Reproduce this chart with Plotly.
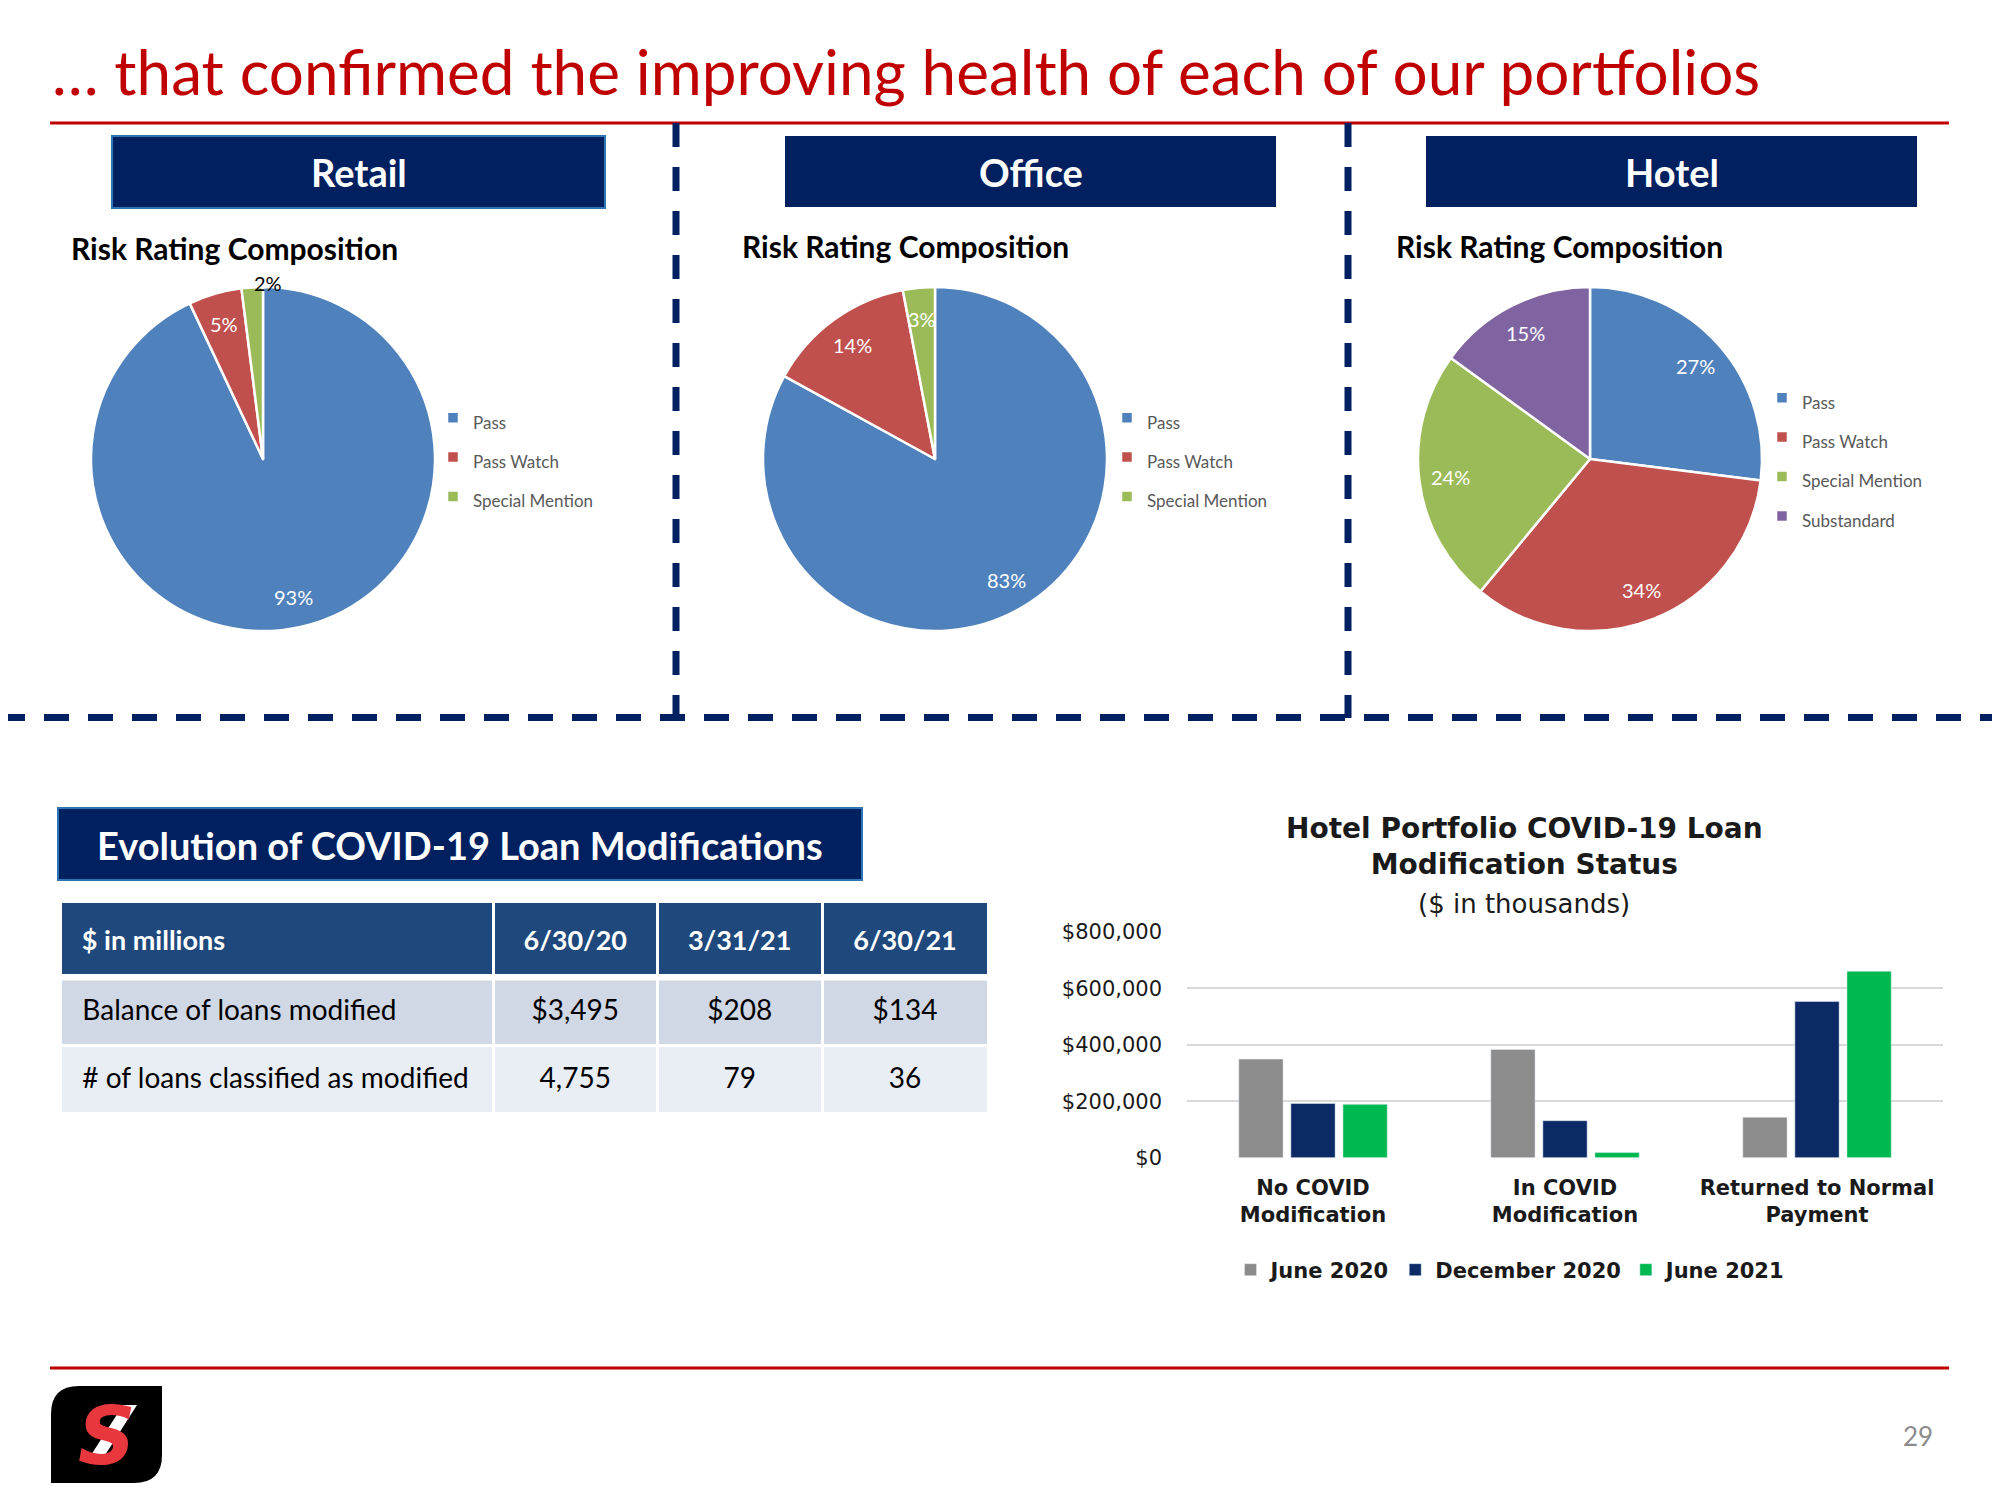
import math
import plotly.graph_objects as go

# ---------------- data ----------------
title_text = "… that confirmed the improving health of each of our portfolios"
panel_titles = ["Retail", "Office", "Hotel"]
pie_subtitle = "Risk Rating Composition"

retail_labels = ["Pass", "Pass Watch", "Special Mention"]
retail_values = [93, 5, 2]
office_labels = ["Pass", "Pass Watch", "Special Mention"]
office_values = [83, 14, 3]
hotel_labels = ["Pass", "Pass Watch", "Special Mention", "Substandard"]
hotel_values = [27, 34, 24, 15]

table_title = "Evolution of COVID-19 Loan Modifications"
table_header = ["$ in millions", "6/30/20", "3/31/21", "6/30/21"]
table_rows = ["Balance of loans modified", "# of loans classified as modified"]
col_6_30_20 = ["$3,495", "4,755"]
col_3_31_21 = ["$208", "79"]
col_6_30_21 = ["$134", "36"]

bar_title = ["Hotel Portfolio COVID-19 Loan", "Modification Status"]
bar_subtitle = "($ in thousands)"
bar_series = ["June 2020", "December 2020", "June 2021"]
bar_categories = ["No COVID Modification", "In COVID Modification", "Returned to Normal Payment"]
bar_tick_labels = ["No COVID<br>Modification", "In COVID<br>Modification", "Returned to Normal<br>Payment"]
june_2020 = [349000, 383000, 143000]
december_2020 = [192000, 131000, 553000]
june_2021 = [189000, 18000, 660000]
y_tick_values = [0, 200000, 400000, 600000, 800000]
page_number = "29"

# ---------------- styles ----------------
W, H, OFF = 1984, 1484, 8


def X(p):
    return (p - OFF) / W


def Y(p):
    return 1 - (p - OFF) / H


NAVY = "#002060"
RED = "#C00000"
BORDER_BLUE = "#2E75B6"
CAL = "Lato, Carlito, Calibri, sans-serif"
ARI = "DejaVu Sans, Verdana, sans-serif"
rating_colors = {"Pass": "#4F81BD", "Pass Watch": "#C0504D",
                 "Special Mention": "#9BBB59", "Substandard": "#8064A2"}
series_colors = ["#8C8C8C", "#0B2A66", "#00B850"]

fig = go.Figure()
shapes = []
annotations = []


def txt(x, y, text, size, color, family=CAL, xa="center", ya="middle"):
    annotations.append(dict(x=X(x), y=Y(y), xref="paper", yref="paper", text=text,
                            showarrow=False, xanchor=xa, yanchor=ya,
                            font=dict(family=family, size=size, color=color)))


# ---------------- slide frame ----------------
txt(50, 71, title_text, 62, RED, xa="left")
for yy in (123, 1368):
    shapes.append(dict(type="line", xref="paper", yref="paper", x0=X(50), x1=X(1949),
                       y0=Y(yy), y1=Y(yy), line=dict(color=RED, width=3)))
for xx in (676, 1348):
    shapes.append(dict(type="line", xref="paper", yref="paper", x0=X(xx), x1=X(xx),
                       y0=Y(123), y1=Y(718), line=dict(color=NAVY, width=7, dash="24px,20px")))
shapes.append(dict(type="line", xref="paper", yref="paper", x0=X(0), x1=X(2000),
                   y0=Y(717.5), y1=Y(717.5), line=dict(color=NAVY, width=7, dash="25px,19px")))

boxes = [(112, 136, 605, 208, True), (785, 136, 1276, 207, False), (1426, 136, 1917, 207, False)]
for (x0, y0, x1, y1, bord), name in zip(boxes, panel_titles):
    shapes.append(dict(type="rect", xref="paper", yref="paper", x0=X(x0), x1=X(x1), y0=Y(y1), y1=Y(y0),
                       fillcolor=NAVY, line=dict(color=BORDER_BLUE if bord else NAVY, width=2 if bord else 0)))
    txt((x0 + x1) / 2, (y0 + y1) / 2, "<b>%s</b>" % name, 38, "white")

# ---------------- pies ----------------
R = 172
pies = [
    (retail_labels, retail_values, 263, 459, 69, 248, "legend2", ["in", "in", "out"]),
    (office_labels, office_values, 935, 459, 740, 246, "legend3", ["in", "in", "in"]),
    (hotel_labels, hotel_values, 1590, 459, 1394, 246, "legend4", ["in", "in", "in", "in"]),
]
size_tags = ["17px", "17.0px", "17.00px"]
for k, (labels, values, cx, cy, sx, sy, leg, pos) in enumerate(pies):
    fig.add_trace(go.Pie(
        labels=['<span style="font-size:%s">%s</span>' % (size_tags[k], l) for l in labels],
        values=values, sort=False, direction="clockwise", rotation=0,
        marker=dict(colors=[rating_colors[l] for l in labels], line=dict(color="white", width=2.5)),
        textinfo="none", hoverinfo="label+percent",
        domain=dict(x=[X(cx - R), X(cx + R)], y=[Y(cy + R), Y(cy - R)]),
        legend=leg, showlegend=True))
    txt(sx, sy, "<b>%s</b>" % pie_subtitle, 30, "black", xa="left")
    total = float(sum(values))
    cum = 0.0
    for v, p in zip(values, pos):
        ang = 2 * math.pi * (cum + v / 2) / total
        cum += v
        f = 0.83 if p == "in" else 1.04
        txt(cx + f * 170 * math.sin(ang), cy - f * 170 * math.cos(ang),
            "%d%%" % round(100 * v / total), 20, "white" if p == "in" else "black",
            xa="center" if p == "in" else "left")

pie_legend = dict(orientation="v", xanchor="left", yanchor="top", bgcolor="rgba(0,0,0,0)",
                  font=dict(family=CAL, size=28, color="#595959"), itemclick=False)
legend2 = dict(pie_legend, x=X(433), y=Y(393))
legend3 = dict(pie_legend, x=X(1107), y=Y(393))
legend4 = dict(pie_legend, x=X(1762), y=Y(373))

# ---------------- table ----------------
shapes.append(dict(type="rect", xref="paper", yref="paper", x0=X(58), x1=X(862), y0=Y(880), y1=Y(808),
                   fillcolor=NAVY, line=dict(color=BORDER_BLUE, width=2)))
txt(460, 845, "<b>%s</b>" % table_title, 38, "white")

row_fills = ["#D0D7E5", "#E9EDF4"]
col_widths = [431, 163, 164, 165]
aligns = ["left", "center", "center", "center"]
HDR_H, ROW_H, TXT_SHIFT = 76, 68, 14
body = [table_rows, col_6_30_20, col_3_31_21, col_6_30_21]
# table cell fills
fig.add_trace(go.Table(
    domain=dict(x=[X(60), X(988)], y=[Y(1130), Y(901)]),
    columnwidth=col_widths,
    header=dict(values=[""] * len(table_header), fill_color="#1F497D",
                line=dict(color="white", width=3), height=HDR_H),
    cells=dict(values=[[""] * len(table_rows)] * len(table_header),
               fill_color=[row_fills] * 4, line=dict(color="white", width=3), height=ROW_H),
))
# table text (same grid, vertically centred in the cells)
fig.add_trace(go.Table(
    domain=dict(x=[X(60), X(988)], y=[Y(1130 + TXT_SHIFT), Y(901 + TXT_SHIFT)]),
    columnwidth=col_widths,
    header=dict(values=["<b>%s</b>" % h for h in table_header],
                fill_color="rgba(0,0,0,0)", line=dict(color="rgba(0,0,0,0)", width=3),
                align=aligns, prefix=["\u00a0", "", "", ""],
                font=dict(family=CAL, size=27, color="white"), height=HDR_H),
    cells=dict(values=body, fill_color="rgba(0,0,0,0)", line=dict(color="rgba(0,0,0,0)", width=3),
               align=aligns, prefix=["\u00a0", "", "", ""],
               font=dict(family=CAL, size=28, color="black"), height=ROW_H),
))
shapes.append(dict(type="rect", xref="paper", yref="paper", x0=X(58), x1=X(990),
                   y0=Y(980.5), y1=Y(974), fillcolor="white", line=dict(width=0), layer="above"))

# ---------------- bar chart ----------------
for name, vals, col in zip(bar_series, [june_2020, december_2020, june_2021], series_colors):
    fig.add_trace(go.Bar(x=bar_categories, y=vals, name=name, marker=dict(color=col),
                         xaxis="x", yaxis="y", legend="legend"))

txt(1524, 847, "<b>%s<br>%s</b>" % tuple(bar_title), 28, "#1A1A1A", family=ARI)
txt(1524, 904, bar_subtitle, 26, "#1A1A1A", family=ARI)
txt(1918, 1436, page_number, 26, "#8C8C8C")

# ---------------- logo ----------------
lx0, ly0, lx1, ly1, rr = 51, 1386, 162, 1483, 28
logo = ("M {a},{b} L {c},{b} L {c},{d} Q {c},{e} {f},{e} L {g},{e} L {g},{h} Q {g},{b} {a},{b} Z"
        .format(a=X(lx0 + rr), b=Y(ly0), c=X(lx1), d=Y(ly1 - rr), e=Y(ly1), f=X(lx1 - rr),
                g=X(lx0), h=Y(ly0 + rr)))
shapes.append(dict(type="path", xref="paper", yref="paper", path=logo, fillcolor="black",
                   line=dict(width=0)))
txt(107, 1436, "<b><i>S</i></b>", 80, "#E8383D", family="DejaVu Sans")
slash = "M {a},{b} L {c},{b} L {d},{e} L {f},{e} Z".format(
    a=X(123), b=Y(1405), c=X(137), d=X(100), e=Y(1463), f=X(86))
shapes.append(dict(type="path", xref="paper", yref="paper", path=slash, fillcolor="white",
                   line=dict(width=0)))

fig.update_layout(
    width=W, height=H, margin=dict(l=0, r=0, t=0, b=0, autoexpand=False),
    paper_bgcolor="white", plot_bgcolor="white",
    shapes=shapes, annotations=annotations,
    barmode="group", bargap=0.38, bargroupgap=0.15,
    xaxis=dict(domain=[X(1187), X(1943)], tickvals=bar_categories, ticktext=bar_tick_labels,
               tickfont=dict(family=ARI, size=21, color="#1A1A1A", weight="bold"),
               showgrid=False, showline=False, ticks="", ticklabelstandoff=15, automargin=False),
    yaxis=dict(domain=[Y(1157.7), Y(931.7)], range=[0, 800000], tickvals=y_tick_values,
               ticktext=["${:,}".format(v) for v in y_tick_values],
               showgrid=True, gridcolor="#D9D9D9", gridwidth=2,
               zeroline=False, showline=False, ticks="", ticklabelstandoff=24, automargin=False,
               tickfont=dict(family=ARI, size=21, color="#1A1A1A")),
    legend=dict(orientation="h", x=X(1511), xanchor="center", y=Y(1270), yanchor="middle",
                font=dict(family=ARI, size=21, color="#1A1A1A", weight="bold"),
                bgcolor="rgba(0,0,0,0)", itemclick=False),
    legend2=legend2, legend3=legend3, legend4=legend4,
    showlegend=True,
)

fig.write_html("out.html")
